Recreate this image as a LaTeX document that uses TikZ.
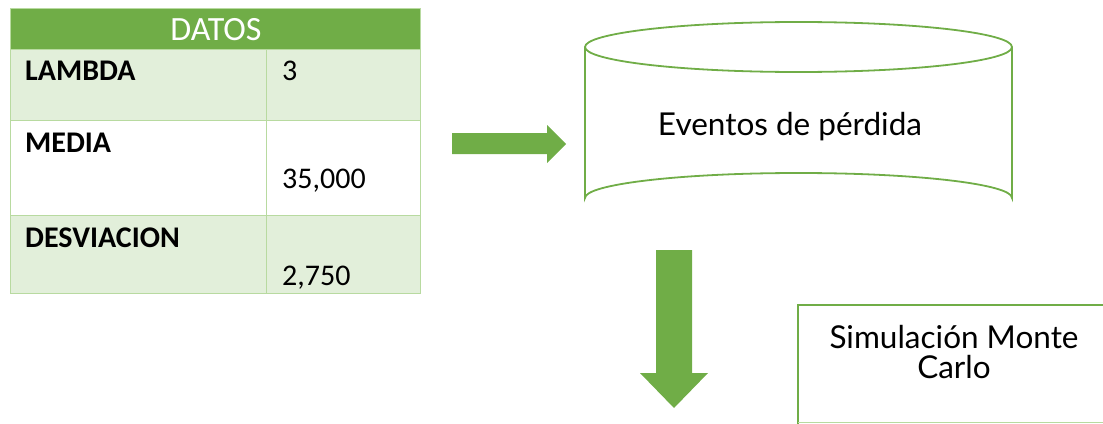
\documentclass[tikz,border=0pt]{standalone}
\usepackage{fontspec}
\setmainfont{Carlito}
\newfontfamily\lat{Lato}
\definecolor{gmain}{HTML}{70AD47}
\definecolor{glight}{HTML}{E2EFDA}
\definecolor{gline}{HTML}{B8DAA0}
\begin{document}
\begin{tikzpicture}[x=1pt,y=-1pt,
  cell/.style={inner sep=0pt,anchor=base west,font=\fontsize{30}{36}\selectfont\bfseries},
  val/.style={inner sep=0pt,anchor=base west,font=\fontsize{30}{36}\selectfont},
  big/.style={inner sep=0pt,anchor=base,font=\lat\fontsize{31.5}{36}\selectfont},
  garrow/.style={fill=gmain,draw=none},
  gout/.style={draw=gmain,line width=1.8pt}]
\useasboundingbox (0,0) rectangle (1103,423);
% table
\fill[gmain] (10,8) rectangle (420,49);
\fill[glight] (10,49) rectangle (420,120);
\fill[white] (10,120) rectangle (420,215);
\fill[glight] (10,215) rectangle (420,293);
\draw[gline,line width=0.8pt] (10,49) -- (420,49) (10,120) -- (420,120) (10,215) -- (420,215)
  (266,49) -- (266,293) (10,8) rectangle (420,293);
\node[inner sep=0pt,anchor=base,text=white,font=\fontsize{34}{40}\selectfont] (hdr) at (216,40) {DATOS};
\node[cell] (l1) at (25,80) {LAMBDA};
\node[val] (v1) at (282,80) {3};
\node[cell] (l2) at (25,152) {MEDIA};
\node[val] (v2) at (282,188) {35,000};
\node[cell] (l3) at (25,247) {DESVIACION};
\node[val] (v3) at (282,285) {2,750};
% right arrow
\fill[garrow] (452,133) -- (547,133) -- (547,125) -- (566,144) -- (547,163) -- (547,154) -- (452,154) -- cycle;
% cylinder
\draw[gout] (798.5,47) ellipse [x radius=213.5, y radius=25];
\draw[gout] (585,47) -- (585,198) arc[start angle=180,end angle=360,x radius=213.5,y radius=25] -- (1012,47);
\node[big] (ev) at (790,135) {Eventos de pérdida};
% down arrow
\fill[garrow] (656,250) -- (692,250) -- (692,373) -- (708,373) -- (674,408) -- (640,373) -- (656,373) -- cycle;
% simulation box
\draw[gout] (1110,305) -- (798,305) -- (798,430);
\draw[gline,line width=0.8pt] (798,422) -- (1110,422);
\node[big] (s1) at (954,348) {Simulación Monte};
\node[big] (s2) at (954,378) {Carlo};
\end{tikzpicture}
\end{document}
